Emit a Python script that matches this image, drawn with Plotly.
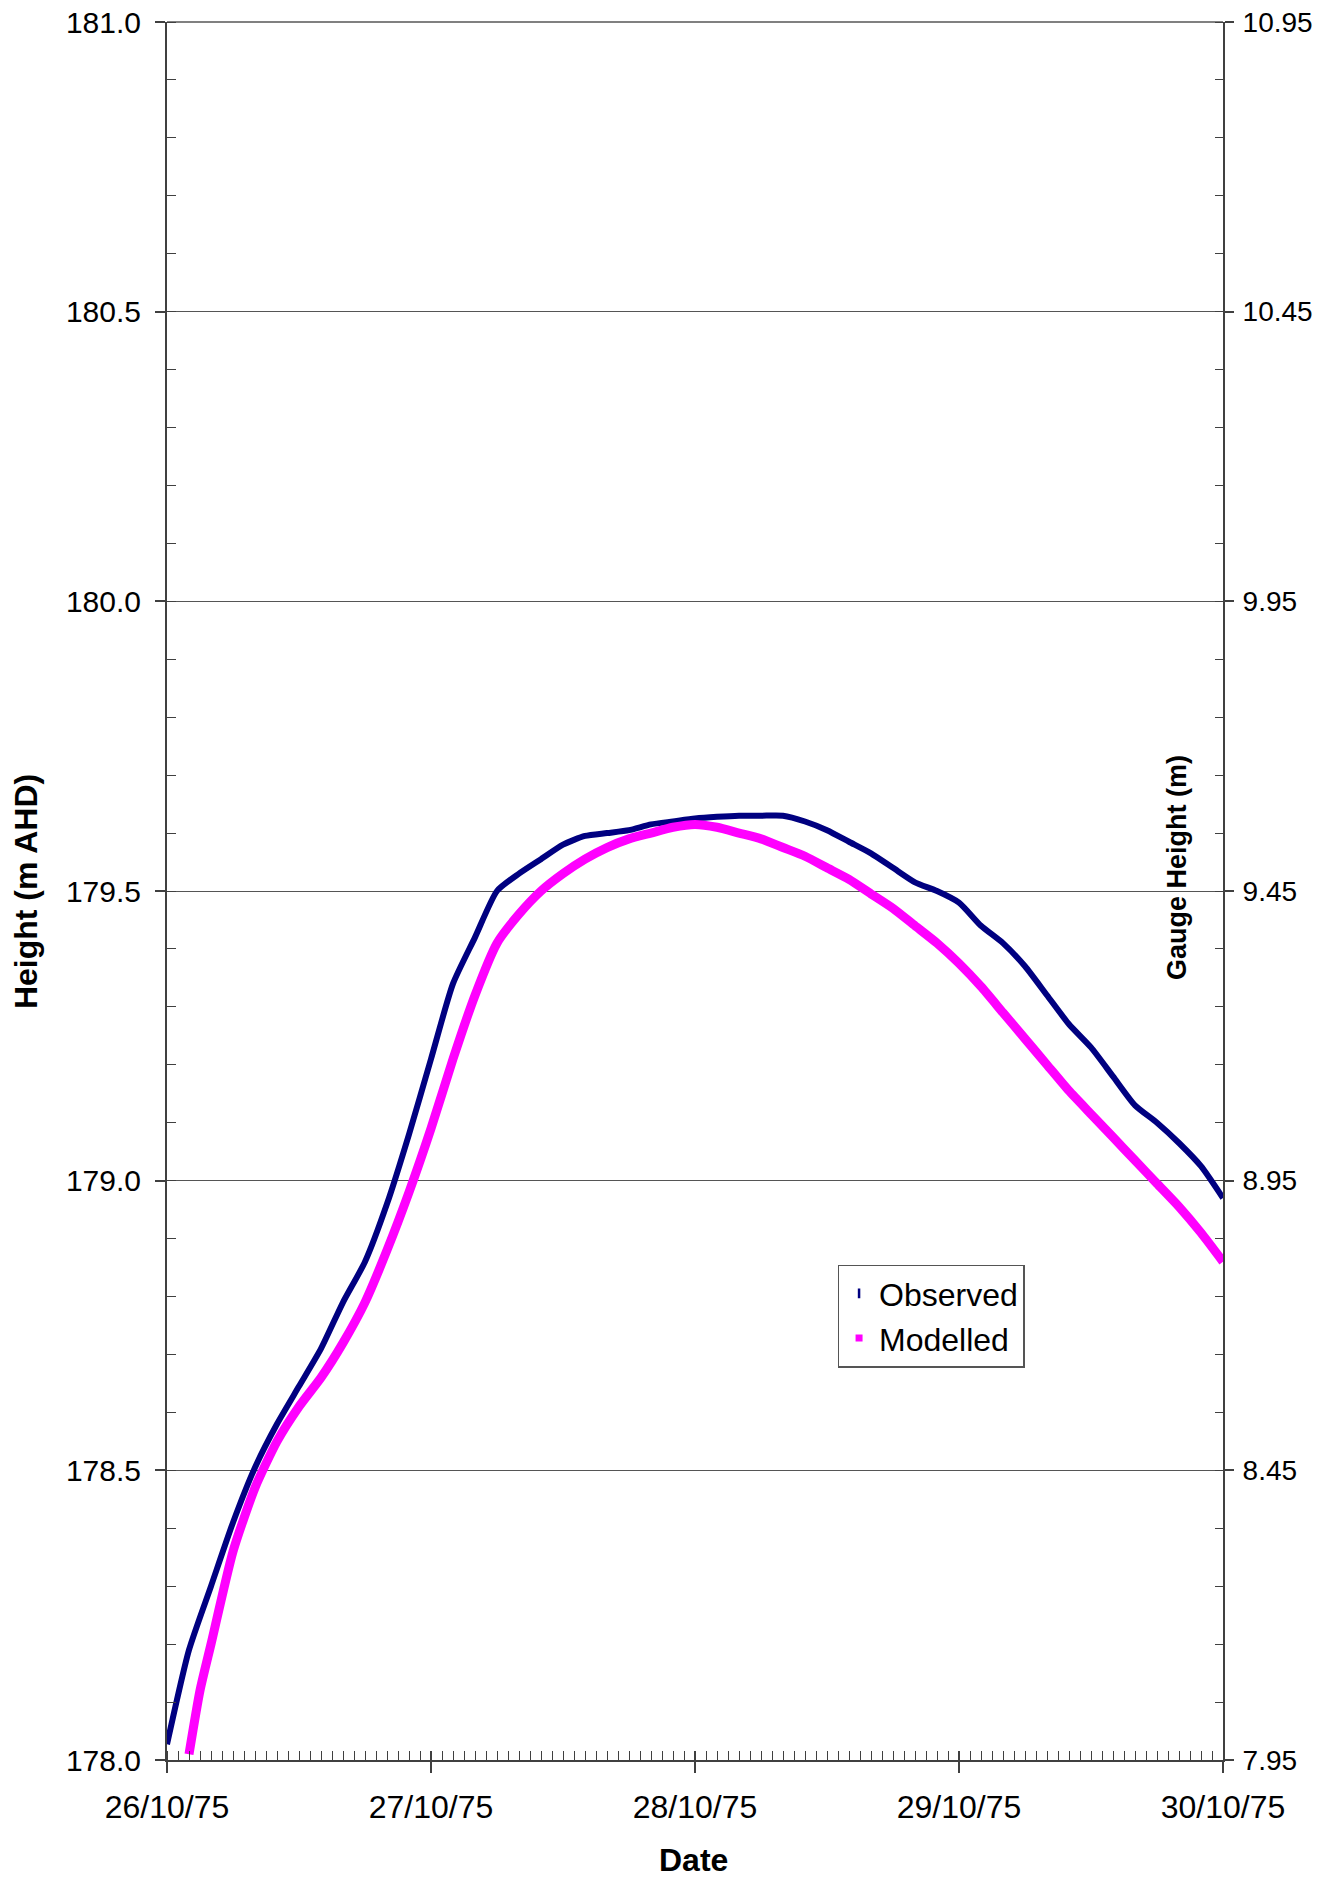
import plotly.graph_objects as go
import pandas as pd

# ---- data (hours after 26/10/75 00:00, height m AHD) ----
obs_hours = [0, 2, 4, 6, 8, 10, 12, 14, 16, 18, 20, 22, 24, 26, 28, 30, 32, 34, 36, 38, 40,
             42, 44, 46, 48, 50, 52, 54, 56, 58, 60, 62, 64, 66, 68, 70, 72, 74, 76, 78, 80,
             82, 84, 86, 88, 90, 92, 94, 96]
obs_height = [178.027, 178.19, 178.30, 178.41, 178.505, 178.58, 178.645, 178.71, 178.79, 178.86,
              178.96, 179.08, 179.21, 179.34, 179.42, 179.50, 179.53, 179.555, 179.58, 179.595,
              179.60, 179.605, 179.615, 179.62, 179.625, 179.628, 179.63, 179.63, 179.63, 179.62,
              179.605, 179.585, 179.565, 179.54, 179.515, 179.50, 179.48, 179.44, 179.41, 179.37,
              179.32, 179.27, 179.23, 179.18, 179.13, 179.10, 179.065, 179.025, 178.97]

mod_hours = [2, 3, 4, 6, 8, 10, 12, 14, 16, 18, 20, 22, 24, 26, 28, 30, 32, 34, 36, 38, 40,
             42, 44, 46, 48, 50, 52, 54, 56, 58, 60, 62, 64, 66, 68, 70, 72, 74, 76, 78, 80,
             82, 84, 86, 88, 90, 92, 94, 96]
mod_height = [178.01, 178.12, 178.20, 178.36, 178.47, 178.55, 178.61, 178.66, 178.72, 178.79,
              178.88, 178.98, 179.09, 179.21, 179.32, 179.41, 179.46, 179.50, 179.53, 179.555,
              179.575, 179.59, 179.60, 179.61, 179.615, 179.61, 179.60, 179.59, 179.575, 179.56,
              179.54, 179.52, 179.495, 179.47, 179.44, 179.41, 179.375, 179.335, 179.29, 179.245,
              179.20, 179.155, 179.115, 179.075, 179.035, 178.995, 178.955, 178.91, 178.86]

start = pd.Timestamp("1975-10-26 00:00")
end = pd.Timestamp("1975-10-30 00:00")
obs_time = [start + pd.Timedelta(hours=h) for h in obs_hours]
mod_time = [start + pd.Timedelta(hours=h) for h in mod_hours]

NAVY = "#000080"
MAGENTA = "#FF00FF"
FONT = "Liberation Sans, Arial, sans-serif"
AX = "#404040"

fig = go.Figure()
fig.add_trace(go.Scatter(x=obs_time, y=obs_height, mode="lines", showlegend=False,
                         line=dict(color=NAVY, width=6, shape="spline", smoothing=0.6)))
fig.add_trace(go.Scatter(x=mod_time, y=mod_height, mode="lines", showlegend=False,
                         line=dict(color=MAGENTA, width=9, shape="spline", smoothing=0.6)))
# legend entries
fig.add_trace(go.Scatter(x=[None], y=[None], mode="markers", name="Observed",
                         marker=dict(symbol="line-ns", size=7, color=NAVY,
                                     line=dict(color=NAVY, width=2.5))))
fig.add_trace(go.Scatter(x=[None], y=[None], mode="markers", name="Modelled",
                         marker=dict(symbol="square", size=7, color=MAGENTA,
                                     line=dict(width=0))))
# carrier for secondary axes
fig.add_trace(go.Scatter(x=[None], y=[None], xaxis="x2", yaxis="y2", showlegend=False,
                         hoverinfo="skip"))

fig.update_layout(
    template="none",
    width=1326, height=1881,
    margin=dict(l=167, r=103, t=22, b=121, autoexpand=False),
    paper_bgcolor="white", plot_bgcolor="white",
    font=dict(family=FONT, color="black"),
    xaxis=dict(
        type="date", range=[start, end], automargin=False,
        tick0=start, dtick=86400000, tickformat="%d/%m/%y",
        ticks="outside", ticklen=11, tickwidth=1.5, tickcolor=AX,
        tickfont=dict(size=32, family=FONT), ticklabelstandoff=7,
        showline=True, linecolor=AX, linewidth=2,
        showgrid=False, zeroline=False,
        minor=dict(dtick=3600000, ticks="inside", ticklen=9, tickwidth=1.2,
                   tickcolor=AX, showgrid=False),
    ),
    xaxis2=dict(
        type="date", range=[start, end], overlaying="x", anchor="y2", side="bottom",
        automargin=False,
        tick0=start, dtick=86400000, ticks="inside", ticklen=9, tickwidth=1.5,
        tickcolor=AX, showticklabels=False, showline=False, showgrid=False,
        zeroline=False,
    ),
    yaxis=dict(
        range=[178.0, 181.0], tick0=178.0, dtick=0.5, tickformat=".1f", automargin=False,
        ticks="outside", ticklen=10, tickwidth=1.5, tickcolor=AX,
        tickfont=dict(size=30, family=FONT), ticklabelstandoff=8,
        ticklabeloverflow="allow",
        showline=True, linecolor=AX, linewidth=2,
        showgrid=True, gridcolor="#555555", gridwidth=1.2, zeroline=False,
        minor=dict(dtick=0.1, ticks="inside", ticklen=9, tickwidth=1.2,
                   tickcolor=AX, showgrid=False),
    ),
    yaxis2=dict(
        range=[7.95, 10.95], overlaying="y", side="right", anchor="x2", automargin=False,
        tick0=7.95, dtick=0.5, tickformat=".2f",
        ticks="outside", ticklen=9, tickwidth=1.5, tickcolor=AX,
        tickfont=dict(size=28, family=FONT), ticklabelstandoff=3,
        ticklabeloverflow="allow",
        showline=True, linecolor=AX, linewidth=2,
        showgrid=False, zeroline=False,
        minor=dict(dtick=0.1, tick0=7.95, ticks="inside", ticklen=8, tickwidth=1.2,
                   tickcolor=AX, showgrid=False),
    ),
    legend=dict(
        x=0.635, y=0.285, xanchor="left", yanchor="top",
        bgcolor="white", bordercolor="#555555", borderwidth=1.5,
        font=dict(size=32, family=FONT), tracegroupgap=0, itemwidth=30,
    ),
    shapes=[
        dict(type="line", xref="paper", yref="paper", x0=0, x1=1, y0=1, y1=1,
             line=dict(color="#808080", width=2), layer="below"),
    ],
    annotations=[
        dict(text="<b>Height (m AHD)</b>", xref="paper", yref="paper",
             x=-0.1335, y=0.4994, textangle=-90, showarrow=False,
             font=dict(size=32, family=FONT), xanchor="center", yanchor="middle"),
        dict(text="<b>Gauge Height (m)</b>", xref="paper", yref="paper",
             x=0.9564, y=0.5138, textangle=-90, showarrow=False,
             font=dict(size=27, family=FONT), xanchor="center", yanchor="middle"),
        dict(text="<b>Date</b>", xref="paper", yref="paper",
             x=0.499, y=-0.0575, showarrow=False,
             font=dict(size=32, family=FONT), xanchor="center", yanchor="middle"),
    ],
)

fig.write_html("out.html",
               config={"displayModeBar": False},
               post_script="document.body.style.margin='0';document.body.style.padding='0';")
